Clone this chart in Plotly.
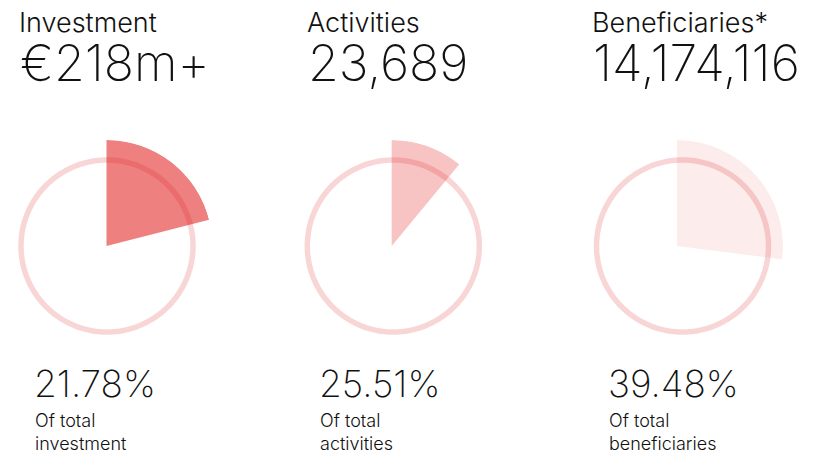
import plotly.graph_objects as go

W, H = 830, 456

titles = ["Investment", "Activities", "Beneficiaries*"]
headline_values = ["€218m+", "23,689", "14,174,116"]
share_labels = ["21.78%", "25.51%", "39.48%"]
share_captions = ["Of total<br>investment", "Of total<br>activities", "Of total<br>beneficiaries"]
# wedge sizes as drawn (fraction of a full turn)
wedge_fraction = [0.21, 0.11, 0.27]
wedge_colors = ["#ef8080", "#f8c3c3", "#fcecec"]
ring_color = "rgba(218,6,6,0.165)"

# layout positions (pixels)
title_x = [21, 309, 594]
caption_x = [36, 321, 610]
wedge_cx = [106.5, 391.7, 677]
ring_cx = [107, 393.3, 682.5]
cy = 246
S = 106          # half size of each polar domain in px
ring_r = 86 / S  # ring radius relative to wedge radius

FONT = "Inter"

fig = go.Figure()

def dom(cx):
    return dict(x=[(cx - S) / W, (cx + S) / W], y=[1 - (cy + S) / H, 1 - (cy - S) / H])

polar_common = dict(
    bgcolor="rgba(0,0,0,0)",
    radialaxis=dict(visible=False, range=[0, 1]),
    angularaxis=dict(visible=False, rotation=90, direction="clockwise"),
    hole=0,
)

layout_polars = {}
for i in range(3):
    name = "polar" if i == 0 else f"polar{i+1}"
    fig.add_trace(go.Barpolar(
        r=[1], theta=[wedge_fraction[i] * 360 / 2], width=[wedge_fraction[i] * 360],
        marker=dict(color=wedge_colors[i], line=dict(width=0)),
        subplot=name, showlegend=False, hoverinfo="skip",
    ))
    layout_polars[name] = dict(domain=dom(wedge_cx[i]), **polar_common)

for i in range(3):
    name = f"polar{i+4}"
    th = list(range(0, 361, 2))
    fig.add_trace(go.Scatterpolar(
        r=[ring_r] * len(th), theta=th, mode="lines",
        line=dict(color=ring_color, width=5.5),
        subplot=name, showlegend=False, hoverinfo="skip",
    ))
    layout_polars[name] = dict(domain=dom(ring_cx[i]), **polar_common)

fig.update_layout(**layout_polars)

ann = []
def A(text, x, y, size, weight=400):
    ann.append(dict(text=text, x=x / W, y=1 - y / H, xref="paper", yref="paper",
                    xanchor="left", yanchor="middle", showarrow=False, align="left",
                    xshift=-3, borderpad=0,
                    font=dict(family=FONT, size=size, color="#111111", weight=weight)))

for i in range(3):
    A(titles[i], title_x[i], 22, 27, 300)
    A(headline_values[i], title_x[i] + 1, 63, 50, 200)
    A(share_labels[i], caption_x[i], 383, 37, 200)
    A(share_captions[i], caption_x[i] + 1, 432, 18, 300)

fig.update_layout(
    width=W, height=H, margin=dict(l=0, r=0, t=0, b=0),
    paper_bgcolor="white", plot_bgcolor="white",
    annotations=ann, showlegend=False,
)

fig.write_html("out.html", config={"displayModeBar": False},
               post_script="document.body.style.margin='0';")
